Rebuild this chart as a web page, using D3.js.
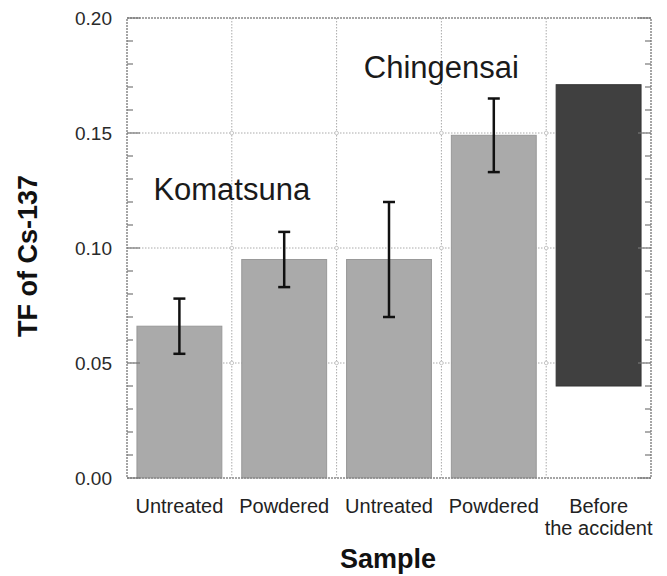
<!DOCTYPE html>
<html>
<head>
<meta charset="utf-8">
<script src="https://cdn.jsdelivr.net/npm/d3@7"></script>
<style>
  body { margin: 0; background: #fff; }
  svg text { font-family: "Liberation Sans", Arial, sans-serif; }
</style>
</head>
<body>
<svg id="chart" width="667" height="576"></svg>
<script>
// sample labels (two lines for the last one)
const categories = ["Untreated", "Powdered", "Untreated", "Powdered", "Before|the accident"]
// bar bottom / top (the last bar is a range, not a mean)
const barBase = [0, 0, 0, 0, 0.040]
const barTop = [0.066, 0.095, 0.095, 0.149, 0.171]
const errLow = [0.054, 0.083, 0.070, 0.133, null]
const errHigh = [0.078, 0.107, 0.120, 0.165, null]
const yTicks = [0.00, 0.05, 0.10, 0.15, 0.20]
// plant names, placed on the boundary between their two bars
const groupNames = ["Komatsuna", "Chingensai"]
const groupAt = [1, 3]
const groupY = [0.121, 0.174]

const margin = { top: 18, right: 16, bottom: 98, left: 127 }
const W = 667, H = 576
const iw = W - margin.left - margin.right
const ih = H - margin.top - margin.bottom

const svg = d3.select('#chart')
const g = svg.append('g').attr('transform', `translate(${margin.left},${margin.top})`)

const idx = categories.map((d, i) => i)
const x = d3.scaleBand().domain(idx).range([0, iw]).paddingInner(0.19).paddingOuter(0.095)
const y = d3.scaleLinear().domain([0, 0.2]).range([ih, 0])
const step = x.step()

// dotted grid
const grid = g.append('g').attr('stroke', '#aaa').attr('stroke-dasharray', '1.5,1.5').attr('stroke-width', 1)
grid.selectAll('.hg').data(yTicks.slice(1, -1)).enter().append('line')
  .attr('x1', 0).attr('x2', iw).attr('y1', d => y(d)).attr('y2', d => y(d))
grid.selectAll('.vg').data(d3.range(1, categories.length)).enter().append('line')
  .attr('x1', d => d * step).attr('x2', d => d * step).attr('y1', 0).attr('y2', ih)

// little circles where the grid crosses
const cross = []
yTicks.slice(1, -1).forEach(t => d3.range(1, categories.length).forEach(k => cross.push([k * step, y(t)])))
g.selectAll('.cr').data(cross).enter().append('circle')
  .attr('cx', d => d[0]).attr('cy', d => d[1]).attr('r', 1.8)
  .attr('fill', '#fff').attr('stroke', '#bbb').attr('stroke-width', 0.8)

// bars
g.selectAll('.bar').data(idx).enter().append('rect')
  .attr('x', i => x(i))
  .attr('width', x.bandwidth())
  .attr('y', i => y(barTop[i]))
  .attr('height', i => y(barBase[i]) - y(barTop[i]))
  .attr('fill', i => i === 4 ? '#404040' : '#aaaaaa')
  .attr('stroke', i => i === 4 ? '#333' : '#999')
  .attr('stroke-width', 1)

// error bars
const eb = g.selectAll('.err').data(idx.filter(i => errLow[i] != null)).enter().append('g')
  .attr('stroke', '#111').attr('stroke-width', 2.5)
eb.append('line')
  .attr('x1', i => x(i) + x.bandwidth() / 2).attr('x2', i => x(i) + x.bandwidth() / 2)
  .attr('y1', i => y(errLow[i])).attr('y2', i => y(errHigh[i]))
eb.append('line')
  .attr('x1', i => x(i) + x.bandwidth() / 2 - 6).attr('x2', i => x(i) + x.bandwidth() / 2 + 6)
  .attr('y1', i => y(errHigh[i])).attr('y2', i => y(errHigh[i]))
eb.append('line')
  .attr('x1', i => x(i) + x.bandwidth() / 2 - 6).attr('x2', i => x(i) + x.bandwidth() / 2 + 6)
  .attr('y1', i => y(errLow[i])).attr('y2', i => y(errLow[i]))

// frame
g.append('rect').attr('width', iw).attr('height', ih)
  .attr('fill', 'none').attr('stroke', '#888').attr('stroke-width', 1.5).attr('stroke-dasharray', '2,1')

// ticks on both sides, pointing in
const minor = d3.range(0, 0.2001, 0.01)
const isMajor = d => Math.abs(Math.round(d * 20) - d * 20) < 1e-6
const tk = g.append('g').attr('stroke', '#777').attr('stroke-width', 1.2)
tk.selectAll('.tl').data(minor).enter().append('line')
  .attr('x1', 0).attr('x2', d => isMajor(d) ? 13 : 6)
  .attr('y1', d => y(d)).attr('y2', d => y(d))
tk.selectAll('.tr').data(minor).enter().append('line')
  .attr('x1', iw).attr('x2', d => iw - (isMajor(d) ? 13 : 6))
  .attr('y1', d => y(d)).attr('y2', d => y(d))

// y tick labels
g.selectAll('.yl').data(yTicks).enter().append('text')
  .attr('x', -15).attr('y', d => y(d)).attr('dy', '0.36em')
  .attr('text-anchor', 'end').attr('font-size', 19).attr('fill', '#2a2a2a')
  .text(d => d.toFixed(2))

// x tick labels
const xl = g.selectAll('.xl').data(idx).enter().append('text')
  .attr('text-anchor', 'middle').attr('font-size', 20).attr('fill', '#222')
  .attr('transform', i => `translate(${x(i) + x.bandwidth() / 2},${ih + 35})`)
xl.selectAll('tspan').data(i => categories[i].split('|')).enter().append('tspan')
  .attr('x', 0).attr('dy', (d, j) => j === 0 ? 0 : 22).text(d => d)

// plant names
g.selectAll('.gn').data(groupNames).enter().append('text')
  .attr('x', (d, k) => groupAt[k] * step).attr('y', (d, k) => y(groupY[k]))
  .attr('text-anchor', 'middle').attr('font-size', 31).attr('fill', '#1a1a1a')
  .text(d => d)

// axis titles
svg.append('text')
  .attr('transform', `translate(37,${margin.top + ih / 2 + 8}) rotate(-90)`)
  .attr('text-anchor', 'middle').attr('font-size', 27).attr('font-weight', 'bold').attr('fill', '#111')
  .text('TF of Cs-137')
svg.append('text')
  .attr('x', margin.left + iw / 2 - 1).attr('y', 568)
  .attr('text-anchor', 'middle').attr('font-size', 27).attr('font-weight', 'bold').attr('fill', '#111')
  .text('Sample')
</script>
</body>
</html>
